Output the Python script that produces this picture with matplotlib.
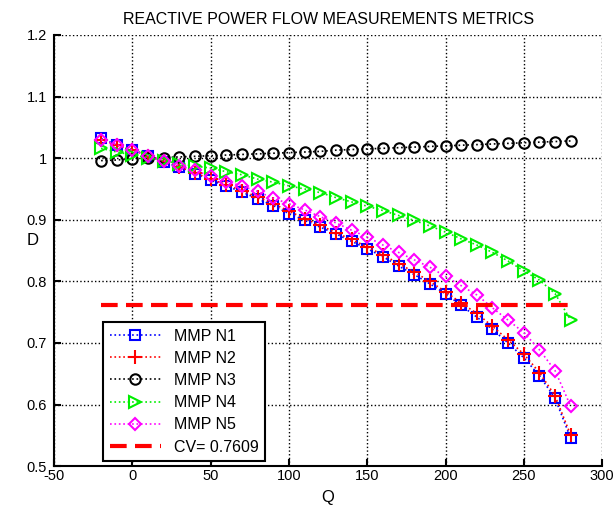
import matplotlib
matplotlib.use("Agg")
import matplotlib.pyplot as plt

plt.rcParams['font.family'] = ['Liberation Sans', 'DejaVu Sans']
plt.rcParams['axes.unicode_minus'] = False

# data
q = [-20, -10, 0, 10, 20, 30, 40, 50, 60, 70, 80, 90, 100, 110, 120, 130,
     140, 150, 160, 170, 180, 190, 200, 210, 220, 230, 240, 250, 260, 270, 280]

mmp_n1 = [1.032, 1.022, 1.014, 1.004, 0.994, 0.985, 0.975, 0.964, 0.955, 0.945, 0.934,
          0.923, 0.910, 0.899, 0.888, 0.877, 0.865, 0.853, 0.840, 0.825, 0.811, 0.796,
          0.780, 0.761, 0.742, 0.722, 0.700, 0.676, 0.647, 0.610, 0.545]
mmp_n2 = [1.030, 1.021, 1.013, 1.004, 0.995, 0.986, 0.976, 0.966, 0.957, 0.947, 0.937,
          0.926, 0.914, 0.902, 0.891, 0.879, 0.868, 0.856, 0.843, 0.829, 0.815, 0.800,
          0.783, 0.765, 0.748, 0.727, 0.705, 0.682, 0.652, 0.614, 0.550]
mmp_n3 = [0.996, 0.997, 0.999, 1.000, 1.001, 1.002, 1.003, 1.004, 1.005, 1.006, 1.007,
          1.008, 1.009, 1.010, 1.011, 1.013, 1.014, 1.015, 1.016, 1.017, 1.018, 1.019,
          1.020, 1.021, 1.022, 1.023, 1.024, 1.025, 1.026, 1.027, 1.028]
mmp_n4 = [1.016, 1.010, 1.005, 1.001, 0.996, 0.991, 0.987, 0.984, 0.978, 0.973, 0.966,
          0.961, 0.955, 0.950, 0.944, 0.936, 0.929, 0.922, 0.915, 0.907, 0.899, 0.890,
          0.880, 0.869, 0.859, 0.847, 0.833, 0.817, 0.802, 0.780, 0.737]
mmp_n5 = [1.030, 1.022, 1.013, 1.004, 0.996, 0.988, 0.980, 0.971, 0.962, 0.955, 0.946,
          0.935, 0.926, 0.916, 0.905, 0.895, 0.883, 0.872, 0.859, 0.847, 0.835, 0.823,
          0.808, 0.793, 0.778, 0.757, 0.737, 0.717, 0.689, 0.655, 0.597]
cv = 0.7609

fig = plt.figure(figsize=(6.15, 5.14), dpi=100)
ax = fig.add_axes([0.088, 0.093, 0.891, 0.839])

ms = 7.5
ax.plot(q, mmp_n1, ':s', color='blue', mfc='none', ms=ms, mew=1.5, lw=1.2, label='MMP N1')
ax.plot(q, mmp_n2, ':+', color='red', ms=ms + 2, mew=1.5, lw=1.2, label='MMP N2')
ax.plot(q, mmp_n3, ':o', color='black', mfc='none', ms=ms, mew=1.5, lw=1.2, label='MMP N3')
ax.plot(q, mmp_n4, ':>', color='#00ee00', mfc='none', ms=ms + 1, mew=1.5, lw=1.2, label='MMP N4')
ax.plot(q, mmp_n5, ':D', color='magenta', mfc='none', ms=ms - 1, mew=1.5, lw=1.2, label='MMP N5')
ax.plot([q[0], q[-1]], [cv, cv], '--', color='red', lw=3, dashes=(4, 2),
        label='CV= %.4f' % cv)

ax.set_xlim(-50, 300)
ax.set_ylim(0.5, 1.2)
ax.set_xticks(range(-50, 301, 50))
ax.set_yticks([0.5, 0.6, 0.7, 0.8, 0.9, 1.0, 1.1, 1.2])
ax.set_yticklabels(['0.5', '0.6', '0.7', '0.8', '0.9', '1', '1.1', '1.2'])
ax.grid(True, linestyle=':', color='black', lw=1)

for s in ['top', 'right']:
    ax.spines[s].set_visible(False)
for s in ['left', 'bottom']:
    ax.spines[s].set_linewidth(1.5)
ax.tick_params(direction='in', length=5, width=1.5, labelsize=10.5, top=False, right=False)
ax.tick_params(axis='y', pad=5)
ax.tick_params(axis='x', pad=2)

ax.set_xlabel('Q', fontsize=12, labelpad=5)
ax.set_ylabel('D', fontsize=12, rotation=0, ha='center', va='center')
ax.yaxis.set_label_coords(-0.04, 0.524)
ax.set_title('REACTIVE POWER FLOW MEASUREMENTS METRICS', fontsize=11.5, pad=8)

leg = ax.legend(loc='lower left', bbox_to_anchor=(0.09, 0.012), fontsize=11.5,
                fancybox=False, framealpha=1, edgecolor='black', handlelength=3.2,
                borderpad=0.4, labelspacing=0.45, borderaxespad=0)
leg.get_frame().set_linewidth(1.5)

fig.savefig('out.png', dpi=100)
